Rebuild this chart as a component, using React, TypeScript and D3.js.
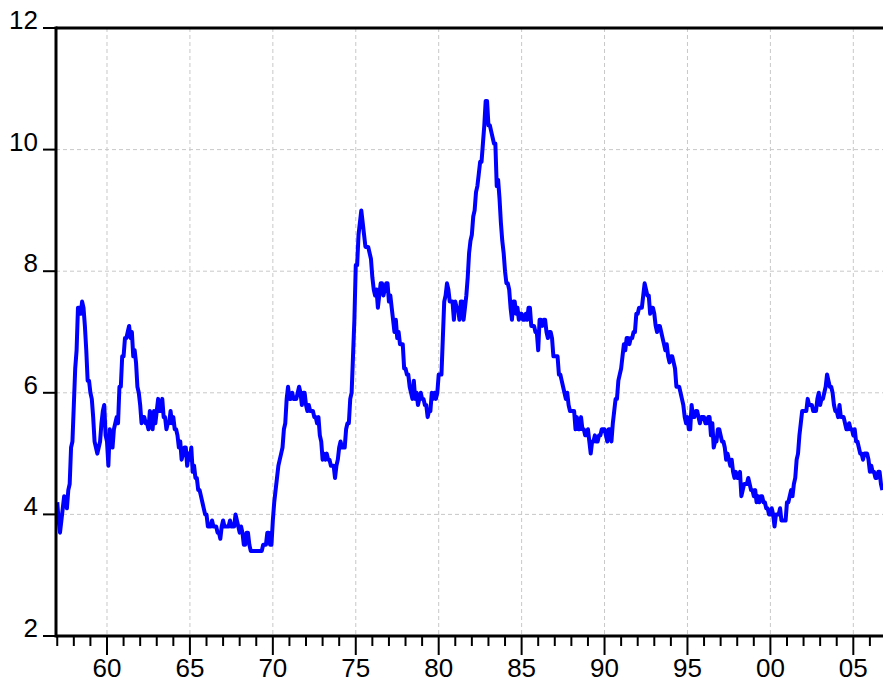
import React, { useEffect, useRef } from 'react';
import * as d3 from 'd3';

// Monthly unemployment rate (%), one row per year, starting 1957:01
const rates1950s = [
  4.2, 3.9, 3.7, 3.9, 4.1, 4.3, 4.2, 4.1, 4.4, 4.5, 5.1, 5.2,
  5.8, 6.4, 6.7, 7.4, 7.4, 7.3, 7.5, 7.4, 7.1, 6.7, 6.2, 6.2,
  6.0, 5.9, 5.6, 5.2, 5.1, 5.0, 5.1, 5.2, 5.5, 5.7, 5.8, 5.3,
];
const rates1960s = [
  5.2, 4.8, 5.4, 5.2, 5.1, 5.4, 5.5, 5.6, 5.5, 6.1, 6.1, 6.6,
  6.6, 6.9, 6.9, 7.0, 7.1, 6.9, 7.0, 6.6, 6.7, 6.5, 6.1, 6.0,
  5.8, 5.5, 5.6, 5.6, 5.5, 5.5, 5.4, 5.7, 5.6, 5.4, 5.7, 5.5,
  5.7, 5.9, 5.7, 5.7, 5.9, 5.6, 5.6, 5.4, 5.5, 5.5, 5.7, 5.5,
  5.6, 5.4, 5.4, 5.3, 5.1, 5.2, 4.9, 5.0, 5.1, 5.1, 4.8, 5.0,
  4.9, 5.1, 4.7, 4.8, 4.6, 4.6, 4.4, 4.4, 4.3, 4.2, 4.1, 4.0,
  4.0, 3.8, 3.8, 3.8, 3.9, 3.8, 3.8, 3.8, 3.7, 3.7, 3.6, 3.8,
  3.9, 3.8, 3.8, 3.8, 3.8, 3.9, 3.8, 3.8, 3.8, 4.0, 3.9, 3.8,
  3.7, 3.8, 3.7, 3.5, 3.5, 3.7, 3.7, 3.5, 3.4, 3.4, 3.4, 3.4,
  3.4, 3.4, 3.4, 3.4, 3.4, 3.5, 3.5, 3.5, 3.7, 3.7, 3.5, 3.5,
];
const rates1970s = [
  3.9, 4.2, 4.4, 4.6, 4.8, 4.9, 5.0, 5.1, 5.4, 5.5, 5.9, 6.1,
  5.9, 5.9, 6.0, 5.9, 5.9, 5.9, 6.0, 6.1, 6.0, 5.8, 6.0, 6.0,
  5.8, 5.7, 5.8, 5.7, 5.7, 5.7, 5.6, 5.6, 5.5, 5.6, 5.3, 5.2,
  4.9, 5.0, 4.9, 5.0, 4.9, 4.9, 4.8, 4.8, 4.8, 4.6, 4.8, 4.9,
  5.1, 5.2, 5.1, 5.1, 5.1, 5.4, 5.5, 5.5, 5.9, 6.0, 6.6, 7.2,
  8.1, 8.1, 8.6, 8.8, 9.0, 8.8, 8.6, 8.4, 8.4, 8.4, 8.3, 8.2,
  7.9, 7.7, 7.6, 7.7, 7.4, 7.6, 7.8, 7.8, 7.6, 7.7, 7.8, 7.8,
  7.5, 7.6, 7.4, 7.2, 7.0, 7.2, 6.9, 7.0, 6.8, 6.8, 6.8, 6.4,
  6.4, 6.3, 6.3, 6.1, 6.0, 5.9, 6.2, 5.9, 6.0, 5.8, 5.9, 6.0,
  5.9, 5.9, 5.8, 5.8, 5.6, 5.7, 5.7, 6.0, 5.9, 6.0, 5.9, 6.0,
];
const rates1980s = [
  6.3, 6.3, 6.3, 6.9, 7.5, 7.6, 7.8, 7.7, 7.5, 7.5, 7.5, 7.2,
  7.5, 7.4, 7.4, 7.2, 7.5, 7.5, 7.2, 7.4, 7.6, 7.9, 8.3, 8.5,
  8.6, 8.9, 9.0, 9.3, 9.4, 9.6, 9.8, 9.8, 10.1, 10.4, 10.8, 10.8,
  10.4, 10.4, 10.3, 10.2, 10.1, 10.1, 9.4, 9.5, 9.2, 8.8, 8.5, 8.3,
  8.0, 7.8, 7.8, 7.7, 7.4, 7.2, 7.5, 7.5, 7.3, 7.4, 7.2, 7.3,
  7.3, 7.2, 7.2, 7.3, 7.2, 7.4, 7.4, 7.1, 7.1, 7.1, 7.0, 7.0,
  6.7, 7.2, 7.2, 7.1, 7.2, 7.2, 7.0, 6.9, 7.0, 7.0, 6.9, 6.6,
  6.6, 6.6, 6.6, 6.3, 6.3, 6.2, 6.1, 6.0, 5.9, 6.0, 5.8, 5.7,
  5.7, 5.7, 5.7, 5.4, 5.6, 5.4, 5.4, 5.6, 5.4, 5.4, 5.3, 5.3,
  5.4, 5.2, 5.0, 5.2, 5.2, 5.3, 5.2, 5.2, 5.3, 5.3, 5.4, 5.4,
];
const rates1990s = [
  5.4, 5.3, 5.2, 5.4, 5.4, 5.2, 5.5, 5.7, 5.9, 5.9, 6.2, 6.3,
  6.4, 6.6, 6.8, 6.7, 6.9, 6.9, 6.8, 6.9, 6.9, 7.0, 7.0, 7.3,
  7.3, 7.4, 7.4, 7.4, 7.6, 7.8, 7.7, 7.6, 7.6, 7.3, 7.4, 7.4,
  7.3, 7.1, 7.0, 7.1, 7.1, 7.0, 6.9, 6.8, 6.7, 6.8, 6.6, 6.5,
  6.6, 6.6, 6.5, 6.4, 6.1, 6.1, 6.1, 6.0, 5.9, 5.8, 5.6, 5.5,
  5.6, 5.4, 5.4, 5.8, 5.6, 5.6, 5.7, 5.7, 5.6, 5.5, 5.6, 5.6,
  5.6, 5.5, 5.5, 5.6, 5.6, 5.3, 5.5, 5.1, 5.2, 5.2, 5.4, 5.4,
  5.3, 5.2, 5.2, 5.1, 4.9, 5.0, 4.9, 4.8, 4.9, 4.7, 4.6, 4.7,
  4.6, 4.6, 4.7, 4.3, 4.4, 4.5, 4.5, 4.5, 4.6, 4.5, 4.4, 4.4,
  4.3, 4.4, 4.2, 4.3, 4.2, 4.3, 4.3, 4.2, 4.2, 4.1, 4.1, 4.0,
];
const rates2000s = [
  4.0, 4.1, 4.0, 3.8, 4.0, 4.0, 4.0, 4.1, 3.9, 3.9, 3.9, 3.9,
  4.2, 4.2, 4.3, 4.4, 4.3, 4.5, 4.6, 4.9, 5.0, 5.3, 5.5, 5.7,
  5.7, 5.7, 5.7, 5.9, 5.8, 5.8, 5.8, 5.7, 5.7, 5.7, 5.9, 6.0,
  5.8, 5.9, 5.9, 6.0, 6.1, 6.3, 6.2, 6.1, 6.1, 6.0, 5.8, 5.7,
  5.7, 5.6, 5.8, 5.6, 5.6, 5.6, 5.5, 5.4, 5.4, 5.5, 5.4, 5.4,
  5.3, 5.4, 5.2, 5.2, 5.1, 5.0, 5.0, 4.9, 5.0, 5.0, 5.0, 4.9,
  4.7, 4.8, 4.7, 4.7, 4.6, 4.6, 4.7, 4.7, 4.5, 4.4,
];

const startYear = 1957;
const yTicks = [2, 4, 6, 8, 10, 12];
const majorYears = [1960, 1965, 1970, 1975, 1980, 1985, 1990, 1995, 2000, 2005];
const yearLabels = ['60', '65', '70', '75', '80', '85', '90', '95', '00', '05'];

const W = 883;
const H = 683;

const App: React.FC = () => {
  const svgRef = useRef<SVGSVGElement>(null);

  useEffect(() => {
    if (!svgRef.current) return;
    const svg = d3.select(svgRef.current);
    svg.selectAll('*').remove();

    const left = 56, right = 883, top = 28, bottom = 636;
    const font = '"Liberation Sans", Arial, sans-serif';

    const rates = [...rates1950s, ...rates1960s, ...rates1970s, ...rates1980s, ...rates1990s, ...rates2000s];
    const series = rates.map((v, i) => ({ t: startYear + i / 12, v }));

    const x = d3.scaleLinear().domain([1956.925, 2006.79]).range([left, right]);
    const y = d3.scaleLinear().domain([2, 12]).range([bottom, top]);

    // grid
    const grid = svg.append('g')
      .attr('stroke', '#c8c8c8')
      .attr('stroke-width', 1)
      .attr('stroke-dasharray', '4,3');
    majorYears.forEach(yr => {
      grid.append('line')
        .attr('x1', x(yr)).attr('x2', x(yr))
        .attr('y1', top).attr('y2', bottom);
    });
    yTicks.slice(1, -1).forEach(v => {
      grid.append('line')
        .attr('x1', left).attr('x2', right)
        .attr('y1', y(v)).attr('y2', y(v));
    });

    // series line
    const line = d3.line<{ t: number; v: number }>()
      .x(d => x(d.t))
      .y(d => y(d.v));
    svg.append('path')
      .datum(series)
      .attr('d', line)
      .attr('fill', 'none')
      .attr('stroke', '#0000ff')
      .attr('stroke-width', 4)
      .attr('stroke-linejoin', 'round');

    // frame
    svg.append('line')
      .attr('x1', left).attr('x2', right + 10)
      .attr('y1', top).attr('y2', top)
      .attr('stroke', '#000').attr('stroke-width', 3);
    svg.append('line')
      .attr('x1', left).attr('x2', left)
      .attr('y1', top - 1.5).attr('y2', bottom + 1.5)
      .attr('stroke', '#000').attr('stroke-width', 3);
    svg.append('line')
      .attr('x1', left).attr('x2', right + 10)
      .attr('y1', bottom).attr('y2', bottom)
      .attr('stroke', '#000').attr('stroke-width', 3);

    // y ticks and labels
    yTicks.forEach(v => {
      svg.append('line')
        .attr('x1', left - 13).attr('x2', left)
        .attr('y1', y(v)).attr('y2', y(v))
        .attr('stroke', '#000').attr('stroke-width', 2);
      svg.append('text')
        .attr('x', 38)
        .attr('y', y(v) + 1)
        .attr('text-anchor', 'end')
        .style('font-family', font)
        .style('font-size', '26px')
        .attr('fill', '#000')
        .text(String(v));
    });

    // x ticks
    d3.range(1957, 2007).forEach(yr => {
      const major = yr % 5 === 0;
      svg.append('line')
        .attr('x1', x(yr)).attr('x2', x(yr))
        .attr('y1', bottom).attr('y2', bottom + (major ? 19 : 10))
        .attr('stroke', '#000').attr('stroke-width', 2);
    });
    majorYears.forEach((yr, i) => {
      svg.append('text')
        .attr('x', x(yr))
        .attr('y', 677)
        .attr('text-anchor', 'middle')
        .style('font-family', font)
        .style('font-size', '26px')
        .attr('fill', '#000')
        .text(yearLabels[i]);
    });
  }, []);

  return (
    <div style={{ position: 'absolute', left: 0, top: 0, width: W, height: H, background: '#fff' }}>
      <svg ref={svgRef} width={W} height={H} style={{ display: 'block' }} />
    </div>
  );
};

export default App;
